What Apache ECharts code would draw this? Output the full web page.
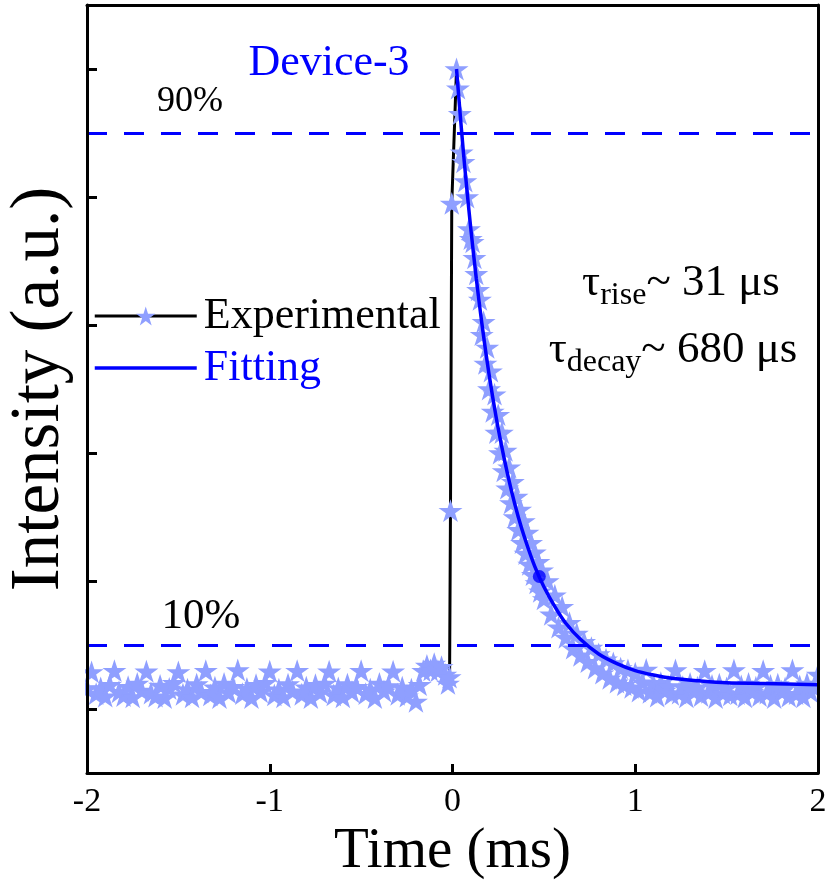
<!DOCTYPE html>
<html>
<head>
<meta charset="utf-8">
<script src="https://cdn.jsdelivr.net/npm/echarts@6/dist/echarts.min.js"></script>
<style>
  html, body { margin: 0; padding: 0; background: #fff; }
  #chart { width: 828px; height: 881px; }
</style>
</head>
<body>
<div id="chart"></div>
<script>
// Transient photoresponse of Device-3: normalised intensity vs time (ms)

// Pre-trigger baseline
const baselineData = [
  [-2.000, 0.032], [-1.975, 0.058], [-1.950, 0.024], [-1.925, 0.033], [-1.900, 0.020],
  [-1.875, 0.038], [-1.850, 0.060], [-1.825, 0.027], [-1.800, 0.021], [-1.775, 0.035],
  [-1.750, 0.019], [-1.725, 0.040], [-1.700, 0.029], [-1.675, 0.059], [-1.650, 0.025],
  [-1.625, 0.020], [-1.600, 0.037], [-1.575, 0.018], [-1.550, 0.032], [-1.525, 0.041],
  [-1.500, 0.058], [-1.475, 0.023], [-1.450, 0.031], [-1.425, 0.019], [-1.400, 0.039],
  [-1.375, 0.027], [-1.350, 0.060], [-1.325, 0.022], [-1.300, 0.034], [-1.275, 0.018],
  [-1.250, 0.040], [-1.225, 0.026], [-1.200, 0.035], [-1.175, 0.061], [-1.150, 0.024],
  [-1.125, 0.032], [-1.100, 0.018], [-1.075, 0.038], [-1.050, 0.027], [-1.025, 0.041],
  [-1.000, 0.059], [-0.975, 0.022], [-0.950, 0.031], [-0.925, 0.019], [-0.900, 0.039],
  [-0.875, 0.028], [-0.850, 0.060], [-0.825, 0.023], [-0.800, 0.034], [-0.775, 0.018],
  [-0.750, 0.038], [-0.725, 0.026], [-0.700, 0.040], [-0.675, 0.059], [-0.650, 0.022],
  [-0.625, 0.033], [-0.600, 0.019], [-0.575, 0.039], [-0.550, 0.027], [-0.525, 0.035],
  [-0.500, 0.060], [-0.475, 0.024], [-0.450, 0.031], [-0.425, 0.018], [-0.400, 0.040],
  [-0.375, 0.028], [-0.350, 0.036], [-0.325, 0.059], [-0.300, 0.023], [-0.275, 0.034],
  [-0.250, 0.020], [-0.225, 0.031], [-0.200, 0.012], [-0.180, 0.038], [-0.160, 0.060],
  [-0.140, 0.068], [-0.120, 0.061], [-0.100, 0.071], [-0.080, 0.060], [-0.060, 0.066],
  [-0.040, 0.054], [-0.025, 0.040], [-0.016, 0.050]
];

// Rising edge
const riseData = [[-0.011, 0.31], [-0.004, 0.79], [0.022, 1.0]];

// Decay after the pulse
const decayData = [
  [0.03, 0.970], [0.04, 0.930], [0.05, 0.870], [0.06, 0.855], [0.07, 0.825],
  [0.08, 0.800], [0.09, 0.750], [0.10, 0.735], [0.11, 0.730], [0.12, 0.705],
  [0.13, 0.680], [0.14, 0.655], [0.15, 0.640], [0.16, 0.585], [0.17, 0.605],
  [0.18, 0.540], [0.19, 0.565], [0.20, 0.500], [0.21, 0.528], [0.22, 0.465],
  [0.23, 0.492], [0.24, 0.432], [0.25, 0.460], [0.26, 0.400], [0.27, 0.432],
  [0.28, 0.372], [0.29, 0.404], [0.30, 0.345], [0.31, 0.378], [0.32, 0.322],
  [0.33, 0.355], [0.34, 0.300], [0.35, 0.332], [0.36, 0.280], [0.37, 0.312],
  [0.38, 0.260], [0.39, 0.294], [0.40, 0.243], [0.41, 0.276], [0.42, 0.226],
  [0.43, 0.260], [0.44, 0.210], [0.45, 0.245], [0.46, 0.197], [0.47, 0.230],
  [0.48, 0.184], [0.49, 0.217], [0.50, 0.172], [0.52, 0.200], [0.54, 0.148],
  [0.56, 0.178], [0.58, 0.128], [0.60, 0.160], [0.62, 0.112], [0.64, 0.135],
  [0.66, 0.095], [0.68, 0.118], [0.70, 0.084], [0.72, 0.105], [0.74, 0.074],
  [0.76, 0.096], [0.78, 0.064], [0.80, 0.086], [0.82, 0.056], [0.84, 0.078],
  [0.86, 0.048], [0.88, 0.072], [0.90, 0.042], [0.92, 0.064], [0.94, 0.038],
  [0.96, 0.061], [0.98, 0.034], [1.00, 0.056], [1.02, 0.028], [1.04, 0.042],
  [1.06, 0.062], [1.08, 0.026], [1.10, 0.038], [1.12, 0.020], [1.14, 0.041],
  [1.16, 0.029], [1.18, 0.036], [1.20, 0.023], [1.22, 0.061], [1.24, 0.025],
  [1.26, 0.035], [1.28, 0.019], [1.30, 0.040], [1.32, 0.028], [1.34, 0.034],
  [1.36, 0.021], [1.38, 0.060], [1.40, 0.026], [1.42, 0.037], [1.44, 0.018],
  [1.46, 0.039], [1.48, 0.025], [1.50, 0.033], [1.52, 0.022], [1.54, 0.061],
  [1.56, 0.024], [1.58, 0.036], [1.60, 0.019], [1.62, 0.040], [1.64, 0.027],
  [1.66, 0.034], [1.68, 0.021], [1.70, 0.060], [1.72, 0.025], [1.74, 0.037],
  [1.76, 0.018], [1.78, 0.039], [1.80, 0.028], [1.82, 0.033], [1.84, 0.020],
  [1.86, 0.061], [1.88, 0.024], [1.90, 0.036], [1.92, 0.019], [1.94, 0.040],
  [1.96, 0.027], [1.98, 0.034], [2.00, 0.054]
];

// Single-exponential fit of the decay
const fitData = [
  [0.022, 1.000], [0.04, 0.936], [0.06, 0.869], [0.08, 0.808], [0.10, 0.751],
  [0.13, 0.673], [0.16, 0.604], [0.20, 0.523], [0.24, 0.454], [0.28, 0.395],
  [0.32, 0.344], [0.36, 0.300], [0.40, 0.263], [0.45, 0.223], [0.50, 0.191],
  [0.56, 0.160], [0.62, 0.134], [0.70, 0.109], [0.80, 0.086], [0.90, 0.071],
  [1.00, 0.060], [1.10, 0.053], [1.20, 0.048], [1.35, 0.044], [1.50, 0.041],
  [1.70, 0.040], [2.00, 0.038]
];
const fitMarker = [[0.475, 0.207]];

// 90 % / 10 % reference levels
const levels = [0.9, 0.1];
const yTicks = [0, 0.2, 0.4, 0.6, 0.8, 1.0];
const xTicks = [-2, -1, 0, 1, 2];

const experimental = baselineData.concat(riseData, decayData);
// connecting trace across the switching edge (elsewhere hidden under the markers)
const edgeTrace = [baselineData[baselineData.length - 1]].concat(riseData);

const SERIF = 'Liberation Serif';
const STAR = 'path://M50,0 L61.23,34.55 L97.55,34.55 L68.17,55.9 L79.39,90.45 L50,69.1 L20.61,90.45 L31.83,55.9 L2.45,34.55 L38.77,34.55 Z';
const STAR_COLOR = '#8f9fff';
const BLUE = '#0000ff';

const chart = echarts.init(document.getElementById('chart'), null, { renderer: 'canvas' });

const frameLine = { show: true, onZero: false, lineStyle: { color: '#000', width: 3 } };

chart.setOption({
  animation: false,
  backgroundColor: '#fff',
  textStyle: { fontFamily: SERIF },
  grid: { left: 87, right: 10, top: 5, bottom: 108, containLabel: false, outerBoundsMode: 'none' },
  xAxis: [
    {
      type: 'value', min: -2, max: 2, interval: 1, position: 'bottom', z: 10,
      axisLine: frameLine,
      axisTick: { show: true, inside: true, length: 9, lineStyle: { color: '#000', width: 3 },
                  customValues: xTicks },
      axisLabel: { show: true, margin: 12, color: '#000', fontSize: 34, fontFamily: SERIF,
                   customValues: xTicks },
      splitLine: { show: false },
      name: 'Time (ms)', nameLocation: 'middle', nameGap: 37,
      nameTextStyle: { color: '#000', fontSize: 57, fontFamily: SERIF }
    },
    {
      type: 'value', min: -2, max: 2, interval: 1, position: 'top', z: 10,
      axisLine: frameLine, axisTick: { show: false }, axisLabel: { show: false },
      splitLine: { show: false }
    }
  ],
  yAxis: [
    {
      type: 'value', min: -0.1, max: 1.1, position: 'left', z: 10,
      axisLine: frameLine,
      axisTick: { show: true, inside: true, length: 10, lineStyle: { color: '#000', width: 3 },
                  customValues: yTicks },
      axisLabel: { show: false },
      splitLine: { show: false },
      name: 'Intensity (a.u.)', nameLocation: 'middle', nameGap: 13,
      nameTextStyle: { color: '#000', fontSize: 69, fontFamily: SERIF }
    },
    {
      type: 'value', min: -0.1, max: 1.1, position: 'right', z: 10,
      axisLine: frameLine, axisTick: { show: false }, axisLabel: { show: false },
      splitLine: { show: false }
    }
  ],
  legend: {
    orient: 'vertical', left: 88, top: 289,
    itemWidth: 102, itemHeight: 24, itemGap: 8,
    textStyle: { fontSize: 44, fontFamily: SERIF, padding: [0, 0, 0, 2] },
    data: [
      { name: 'Experimental', textStyle: { color: '#000', fontFamily: SERIF },
        lineStyle: { color: '#000', width: 3, opacity: 1 } },
      { name: 'Fitting', textStyle: { color: BLUE, fontFamily: SERIF },
        lineStyle: { color: BLUE, width: 3.5, opacity: 1 }, itemStyle: { opacity: 0 } }
    ]
  },
  series: [
    {
      name: 'edge', type: 'line', data: edgeTrace,
      symbol: 'none', lineStyle: { color: '#000', width: 3 }, z: 1
    },
    {
      name: 'Experimental', type: 'line', data: experimental,
      symbol: STAR, symbolSize: 24, symbolKeepAspect: true, showSymbol: true,
      showAllSymbol: true,
      lineStyle: { color: '#000', width: 3, opacity: 0 },
      itemStyle: { color: STAR_COLOR },
      z: 2
    },
    {
      name: 'Fitting', type: 'line', data: fitData, smooth: 0.3,
      symbol: 'none',
      lineStyle: { color: BLUE, width: 3.5 },
      itemStyle: { color: BLUE },
      z: 4,
      markLine: {
        silent: true, symbol: 'none', label: { show: false },
        lineStyle: { color: BLUE, width: 3, type: [20, 17] },
        data: levels.map(v => [{ coord: [-2, v] }, { coord: [2, v] }])
      }
    },
    {
      name: 'fit-point', type: 'scatter', data: fitMarker,
      symbol: 'circle', symbolSize: 13, itemStyle: { color: BLUE }, z: 5
    }
  ],
  graphic: [
    // keep the stars inside the frame
    { type: 'rect', z: 8, shape: { x: 0, y: 600, width: 85, height: 140 }, style: { fill: '#fff' } },
    { type: 'rect', z: 8, shape: { x: 820, y: 600, width: 8, height: 140 }, style: { fill: '#fff' } },
    { type: 'text', z: 20, x: 329, y: 63,
      style: { text: 'Device-3', fill: BLUE, font: '44px "Liberation Serif"', align: 'center', verticalAlign: 'middle' } },
    { type: 'text', z: 20, x: 190, y: 102,
      style: { text: '90%', fill: '#000', font: '36px "Liberation Serif"', align: 'center', verticalAlign: 'middle' } },
    { type: 'text', z: 20, x: 201, y: 617,
      style: { text: '10%', fill: '#000', font: '43px "Liberation Serif"', align: 'center', verticalAlign: 'middle' } },
    { type: 'text', z: 20, x: 681, y: 283,
      style: {
        text: '{m|τ}{s|rise}{m|~ 31 μs}', align: 'center', verticalAlign: 'middle',
        rich: {
          m: { fontSize: 45, fontFamily: SERIF, color: '#000', lineHeight: 50 },
          s: { fontSize: 32, fontFamily: SERIF, color: '#000', lineHeight: 50, padding: [26, 0, 0, 0] }
        }
      } },
    { type: 'text', z: 20, x: 673, y: 350,
      style: {
        text: '{m|τ}{s|decay}{m|~ 680 μs}', align: 'center', verticalAlign: 'middle',
        rich: {
          m: { fontSize: 45, fontFamily: SERIF, color: '#000', lineHeight: 50 },
          s: { fontSize: 32, fontFamily: SERIF, color: '#000', lineHeight: 50, padding: [26, 0, 0, 0] }
        }
      } }
  ]
});
</script>
</body>
</html>
